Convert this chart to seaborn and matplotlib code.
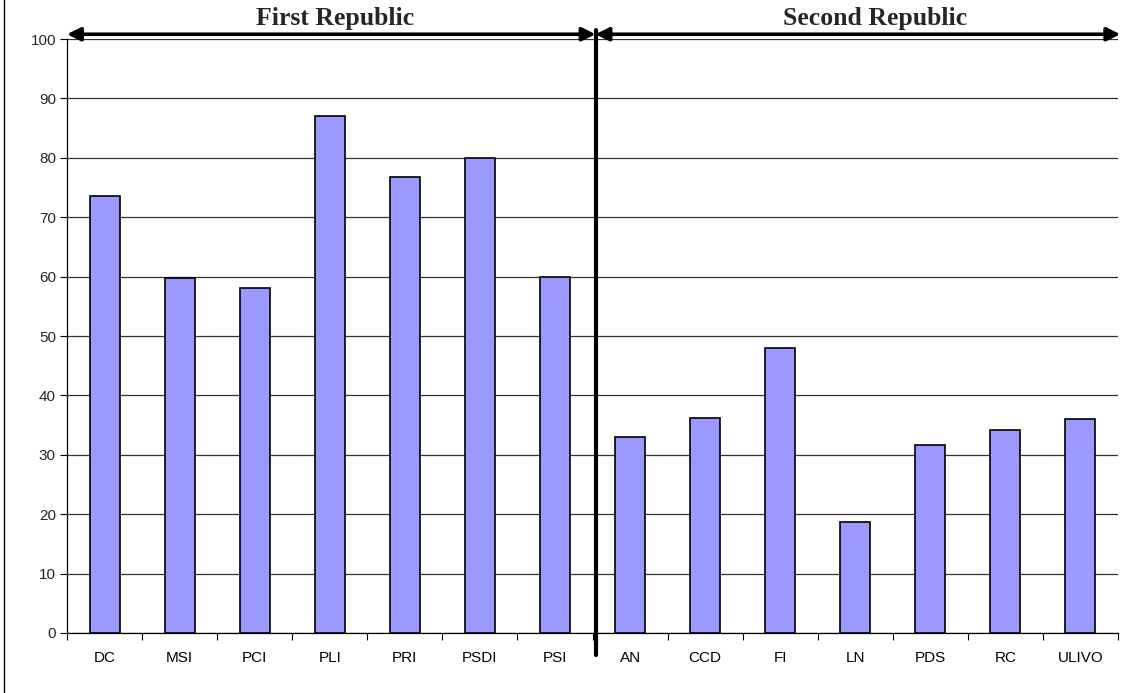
import matplotlib
matplotlib.use("Agg")
import matplotlib.pyplot as plt
import seaborn as sns
import pandas as pd
from matplotlib.lines import Line2D

parties = ["DC", "MSI", "PCI", "PLI", "PRI", "PSDI", "PSI",
           "AN", "CCD", "FI", "LN", "PDS", "RC", "ULIVO"]
values = [73.6, 59.7, 58.0, 87.1, 76.7, 80.0, 60.0,
          33.0, 36.2, 48.0, 18.7, 31.6, 34.2, 36.0]
period_labels = ["First Republic", "Second Republic"]
yticks = list(range(0, 101, 10))

df = pd.DataFrame({"party": parties, "value": values})

sns.set_theme(style="white")
plt.rcParams["font.family"] = ["Liberation Sans", "DejaVu Sans"]

fig = plt.figure(figsize=(11.33, 6.93), dpi=100)
ax = fig.add_axes([67 / 1133, 60 / 693, (1118 - 67) / 1133, (633 - 39) / 693])

sns.barplot(data=df, x="party", y="value", color="#9999FF", edgecolor="black",
            linewidth=1.2, width=0.4, saturation=1, ax=ax, zorder=3)

ax.set_xlim(-0.5, len(parties) - 0.5)
ax.set_ylim(0, 100)
ax.set_yticks(yticks)
ax.set_yticklabels([str(t) for t in yticks], fontsize=11)
ax.yaxis.grid(True, color="#333333", linewidth=0.9, zorder=0)
ax.set_axisbelow(True)

ax.set_xticks(range(len(parties)))
ax.set_xticklabels(parties, fontsize=11)
ax.set_xticks([k - 0.5 for k in range(len(parties) + 1)], minor=True)
ax.tick_params(axis="x", which="major", length=0, pad=13, colors="black")
ax.tick_params(axis="x", which="minor", length=5, width=0.8, color="black", bottom=True)
ax.tick_params(axis="y", length=5, width=0.8, color="black", left=True, pad=3)
ax.set_xlabel("")
ax.set_ylabel("")

for s in ["top", "right"]:
    ax.spines[s].set_visible(False)
for s in ["left", "bottom"]:
    ax.spines[s].set_color("black")
    ax.spines[s].set_linewidth(0.9)

# divider between periods
div = 6.54
ax.add_line(Line2D([div, div], [101.5, -3.7], color="black", linewidth=3,
                   clip_on=False, zorder=5))

# arrows
arr_y = 100.8
for x0, x1 in [(-0.5, div), (div, len(parties) - 0.47)]:
    ax.annotate("", xy=(x0, arr_y), xytext=(x1, arr_y), xycoords="data",
                arrowprops=dict(arrowstyle="<|-|>", color="black", lw=2.6,
                                mutation_scale=20, shrinkA=0, shrinkB=0),
                annotation_clip=False)

ax.text(3.07, 103.5, period_labels[0], ha="center", va="center", fontsize=18.5,
        fontweight="bold", family=["Liberation Serif", "DejaVu Serif"])
ax.text(10.26, 103.5, period_labels[1], ha="center", va="center", fontsize=18.5,
        fontweight="bold", family=["Liberation Serif", "DejaVu Serif"])

# left border of the chart area
fig.add_artist(Line2D([3.5 / 1133, 3.5 / 1133], [0, 1], color="black",
                      linewidth=1, transform=fig.transFigure))

fig.savefig("out.png", dpi=100)
